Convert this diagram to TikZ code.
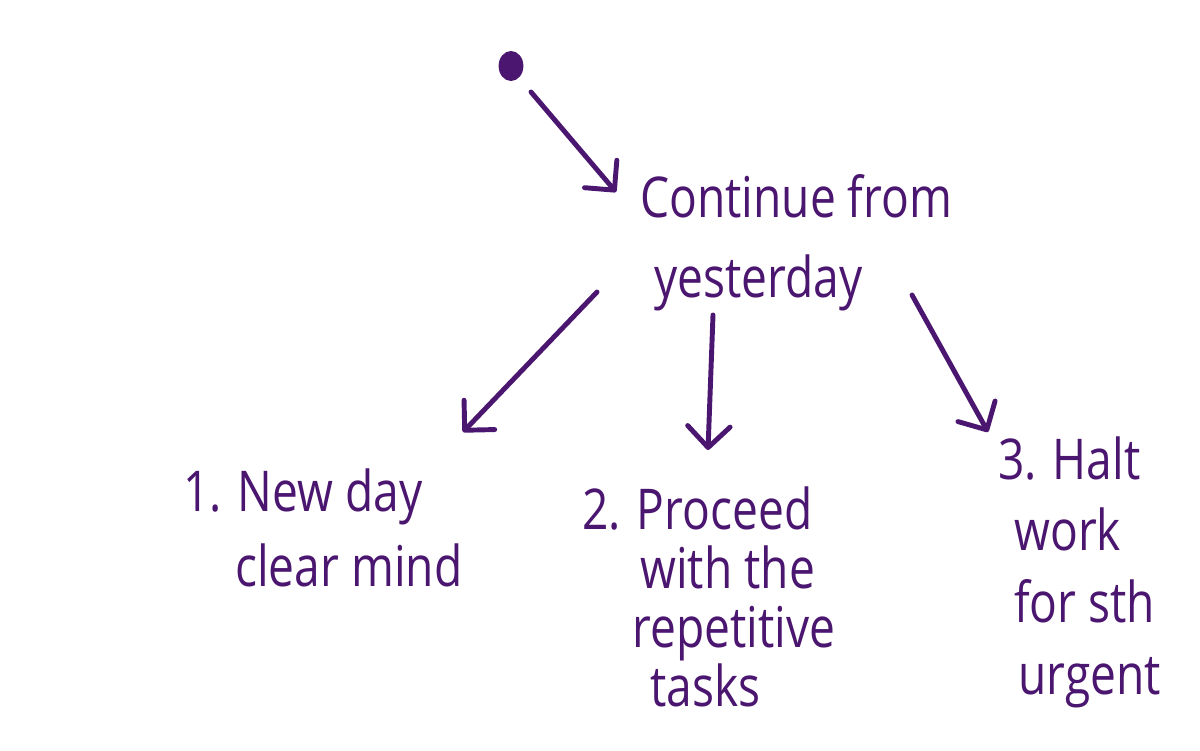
\documentclass[tikz,border=0pt]{standalone}
\usepackage{fontspec}
\setmainfont{Open Sans}[FakeStretch=0.82]
\usetikzlibrary{arrows.meta,shapes.geometric}
\definecolor{ink}{RGB}{75,22,112}
\begin{document}
\begin{tikzpicture}[x=0.025cm,y=-0.025cm,
  arr/.style={draw=ink, line width=3.5pt, line cap=round, line join=round,
    -{Straight Barb[angle=90:0.75cm, line cap=round, line join=round]}},
  txt/.style={text=ink, align=left, anchor=west, inner sep=0pt}]
\useasboundingbox (0,0) rectangle (1200,750);
% start dot
\node[ellipse, fill=ink, minimum width=0.62cm, minimum height=0.75cm, inner sep=0pt] (start) at (511,66) {};
% nodes
\node[txt, font=\fontsize{40}{57}\selectfont] (main) at (640,243) {Continue from\\\hspace*{0.35cm}yesterday};
\node[txt, font=\fontsize{40}{53}\selectfont] (n1) at (183,528) {1. New day\\\hspace*{1.3cm}clear mind};
\node[txt, font=\fontsize{40}{42}\selectfont] (n2) at (582,597) {2. Proceed\\\hspace*{1.45cm}with the\\\hspace*{1.25cm}repetitive\\\hspace*{1.7cm}tasks};
\node[txt, font=\fontsize{40}{51}\selectfont] (n3) at (998,572) {3. Halt\\\hspace*{0.4cm}work\\\hspace*{0.4cm}for sth\\\hspace*{0.5cm}urgent};
% arrow end points
\coordinate (a0s) at (531,92);   \coordinate (a0e) at (616,192);
\coordinate (a1s) at (597,292);  \coordinate (a1e) at (463,432);
\coordinate (a2s) at (713,315);  \coordinate (a2e) at (708,450);
\coordinate (a3s) at (912,295);  \coordinate (a3e) at (988,432);
\draw[arr] (a0s) -- (a0e);
\draw[arr] (a1s) -- (a1e);
\draw[arr] (a2s) -- (a2e);
\draw[arr] (a3s) -- (a3e);
\end{tikzpicture}
\end{document}
